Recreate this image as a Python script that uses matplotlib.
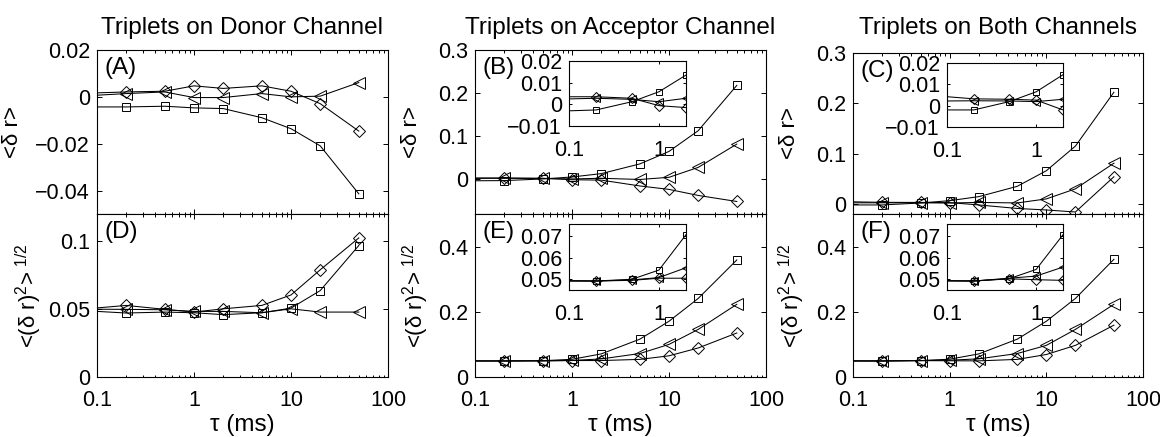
import matplotlib
matplotlib.use("Agg")
import matplotlib.pyplot as plt
from matplotlib.ticker import FixedLocator, FixedFormatter, LogLocator, NullFormatter, NullLocator

# ---------------- data ----------------
tau = [0.05, 0.2, 0.5, 1, 2, 5, 10, 20, 50]          # first point lies left of the axis (line start)
tau_in = [0.05, 0.2, 0.5, 1, 2]                     # points shown in the insets

col_titles = ["Triplets on Donor Channel", "Triplets on Acceptor Channel", "Triplets on Both Channels"]
panel_tags = ["(A)", "(B)", "(C)", "(D)", "(E)", "(F)"]

# panel A  <δr>
sq_A = [-0.0043, -0.0043, -0.0040, -0.0047, -0.0050, -0.0089, -0.0136, -0.0209, -0.0414]
di_A = [0.0013, 0.0021, 0.0024, 0.0047, 0.0036, 0.0047, 0.0024, -0.0029, -0.0146]
tr_A = [0.0000, 0.0014, 0.0021, -0.0003, -0.0003, 0.0014, 0.0000, 0.0003, 0.0061]
# panel B
sq_B = [-0.0034, -0.0026, 0.0012, 0.0058, 0.0135, 0.036, 0.065, 0.113, 0.218]
di_B = [0.0035, 0.0035, 0.0028, -0.0006, -0.0015, -0.015, -0.023, -0.037, -0.051]
tr_B = [0.0022, 0.0028, 0.0023, 0.0012, 0.0028, 0.0000, 0.005, 0.028, 0.082]
# panel C
sq_C = [-0.0020, -0.0020, 0.0019, 0.0065, 0.0145, 0.035, 0.066, 0.115, 0.222]
di_C = [0.0052, 0.0032, 0.0030, 0.0026, -0.0020, -0.009, -0.012, -0.016, 0.054]
tr_C = [0.0021, 0.0023, 0.0022, 0.0019, 0.0030, 0.002, 0.010, 0.030, 0.081]
# panel D  <(δr)^2>^1/2
sq_D = [0.0495, 0.0471, 0.0478, 0.0473, 0.0459, 0.0473, 0.0507, 0.0636, 0.0968]
di_D = [0.0490, 0.0527, 0.0498, 0.0478, 0.0502, 0.0527, 0.0604, 0.0789, 0.1024]
tr_D = [0.0500, 0.0498, 0.0495, 0.0483, 0.0483, 0.0473, 0.0502, 0.0478, 0.0478]
# panel E
sq_E = [0.0492, 0.0492, 0.0500, 0.0543, 0.0708, 0.116, 0.171, 0.241, 0.359]
di_E = [0.0494, 0.0492, 0.0495, 0.0505, 0.0505, 0.054, 0.065, 0.089, 0.135]
tr_E = [0.0494, 0.0492, 0.0497, 0.0508, 0.0554, 0.072, 0.100, 0.146, 0.223]
# panel F
sq_F = [0.0494, 0.0492, 0.0503, 0.0546, 0.0708, 0.116, 0.171, 0.241, 0.361]
di_F = [0.0494, 0.0492, 0.0502, 0.0498, 0.0495, 0.054, 0.069, 0.097, 0.159]
tr_F = [0.0494, 0.0492, 0.0505, 0.0515, 0.0557, 0.072, 0.097, 0.146, 0.223]

# tick values / labels
yt_A = [-0.04, -0.02, 0, 0.02]
yl_A = ["\u22120.04", "\u22120.02", "0", "0.02"]
yt_BC = [0, 0.1, 0.2, 0.3]
yl_BC = ["0", "0.1", "0.2", "0.3"]
yt_D = [0, 0.05, 0.1]
yl_D = ["0", "0.05", "0.1"]
yt_EF = [0, 0.2, 0.4]
yl_EF = ["0", "0.2", "0.4"]
yt_in_top = [-0.01, 0, 0.01, 0.02]
yl_in_top = ["\u22120.01", "0", "0.01", "0.02"]
yt_in_bot = [0.05, 0.06, 0.07]
yl_in_bot = ["0.05", "0.06", "0.07"]
xt = [0.1, 1, 10, 100]
xl = ["0.1", "1", "10", "100"]
xt_in = [0.1, 1]
xl_in = ["0.1", "1"]

# ---------------- style ----------------
plt.rcParams["font.family"] = ["Liberation Sans", "DejaVu Sans"]
plt.rcParams["mathtext.fontset"] = "custom"
plt.rcParams["mathtext.rm"] = "Liberation Sans"
plt.rcParams["axes.linewidth"] = 0.8

W, H = 1160, 437
fig = plt.figure(figsize=(W / 100, H / 100), dpi=100)


def px_axes(x0, y0, x1, y1):
    return fig.add_axes([x0 / W, 1 - y1 / H, (x1 - x0) / W, (y1 - y0) / H])


TICK_FS = 15.5
LW = 0.75
MS = {"s": 6.3, "D": 6.3, "<": 8.3}


def draw_series(ax, x, sq, di, tr, scale=1.0):
    for y, m in ((sq, "s"), (di, "D"), (tr, "<")):
        ax.plot(x, y, color="black", lw=LW, marker=m, ms=MS[m] * scale,
                mfc="none", mec="black", mew=0.7, clip_on=True)


def style_axes(ax, xlim, ylim, yt, yl, xticks, xlabels, show_x, minor=True, pad_x=9):
    ax.set_xscale("log")
    ax.set_xlim(*xlim)
    ax.set_ylim(*ylim)
    ax.yaxis.set_major_locator(FixedLocator(yt))
    ax.yaxis.set_major_formatter(FixedFormatter(yl))
    ax.xaxis.set_major_locator(FixedLocator(xticks))
    if show_x:
        ax.xaxis.set_major_formatter(FixedFormatter(xlabels))
    else:
        ax.xaxis.set_major_formatter(NullFormatter())
    if minor:
        ax.xaxis.set_minor_locator(LogLocator(base=10, subs=[2, 3, 4, 5, 6, 7, 8, 9]))
    else:
        ax.xaxis.set_minor_locator(NullLocator())
    ax.xaxis.set_minor_formatter(NullFormatter())
    ax.yaxis.set_minor_locator(NullLocator())
    ax.tick_params(which="both", direction="in", top=True, right=True,
                   labelsize=TICK_FS, width=0.7)
    ax.tick_params(which="major", length=3.5)
    ax.tick_params(which="minor", length=1.8)
    ax.tick_params(axis="y", pad=5)
    ax.tick_params(axis="x", pad=pad_x)


cols_x = [(97, 388), (475, 766), (853, 1143)]
top_y = [(50, 214), (50, 214), (53, 214)]
bot_y = (214, 377)

panels_top = [(sq_A, di_A, tr_A, (-0.05, 0.02), yt_A, yl_A),
              (sq_B, di_B, tr_B, (-0.08, 0.3), yt_BC, yl_BC),
              (sq_C, di_C, tr_C, (-0.02, 0.3), yt_BC, yl_BC)]
panels_bot = [(sq_D, di_D, tr_D, (0, 0.12), yt_D, yl_D),
              (sq_E, di_E, tr_E, (0, 0.5), yt_EF, yl_EF),
              (sq_F, di_F, tr_F, (0, 0.5), yt_EF, yl_EF)]

ylab_top = "<\u03b4 r>"
ylab_bot = "<(\u03b4 r)$^{\\mathregular{2}}$>$^{\\mathregular{\\ 1/2}}$"

ylab_x_top = [-0.254, -0.182, -0.182]
ylab_x_bot = [-0.182, -0.150, -0.158]

for i in range(3):
    x0, x1 = cols_x[i]
    # top row
    sq, di, tr, yl_lim, yt, yl = panels_top[i]
    ax = px_axes(x0, top_y[i][0], x1, top_y[i][1])
    draw_series(ax, tau, sq, di, tr)
    style_axes(ax, (0.1, 100), yl_lim, yt, yl, xt, xl, show_x=False)
    ax.set_ylabel(ylab_top, fontsize=16)
    ax.yaxis.set_label_coords(ylab_x_top[i], 0.5)
    ax.text(0.027, 0.955, panel_tags[i], transform=ax.transAxes, fontsize=17.5,
            ha="left", va="top")
    fig.text((x0 + x1) / 2 / W, 1 - 34 / H, col_titles[i], fontsize=17.5,
             ha="center", va="baseline")

    # bottom row
    sq, di, tr, yl_lim, yt, yl = panels_bot[i]
    ax = px_axes(x0, bot_y[0], x1, bot_y[1])
    draw_series(ax, tau, sq, di, tr)
    style_axes(ax, (0.1, 100), yl_lim, yt, yl, xt, xl, show_x=True)
    ax.set_ylabel(ylab_bot, fontsize=16)
    ax.yaxis.set_label_coords(ylab_x_bot[i], 0.5)
    ax.set_xlabel("\u03c4 (ms)", fontsize=17.5)
    ax.xaxis.label.set_va("baseline")
    ax.xaxis.set_label_coords(0.5, -(431 - 377) / (377 - 214))
    ax.text(0.027, 0.955, panel_tags[i + 3], transform=ax.transAxes, fontsize=17.5,
            ha="left", va="top")

# insets
inset_boxes_top = {1: (569, 61, 686, 126), 2: (947, 63, 1063, 127)}
inset_boxes_bot = {1: (569, 224, 686, 290), 2: (947, 224, 1063, 290)}
for i in (1, 2):
    sq, di, tr = panels_top[i][:3]
    axi = px_axes(*inset_boxes_top[i])
    draw_series(axi, tau_in, sq[:5], di[:5], tr[:5], scale=0.75)
    style_axes(axi, (0.1, 2), (-0.01, 0.02), yt_in_top, yl_in_top, xt_in, xl_in,
               show_x=True, minor=False, pad_x=10)
    axi.tick_params(which="major", length=2.5)

    sq, di, tr = panels_bot[i][:3]
    axi = px_axes(*inset_boxes_bot[i])
    draw_series(axi, tau_in, sq[:5], di[:5], tr[:5], scale=0.75)
    style_axes(axi, (0.1, 2), (0.045, 0.0758), yt_in_bot, yl_in_bot, xt_in, xl_in,
               show_x=True, minor=False, pad_x=10)
    axi.tick_params(which="major", length=2.5)

fig.savefig("out.png", dpi=100)
